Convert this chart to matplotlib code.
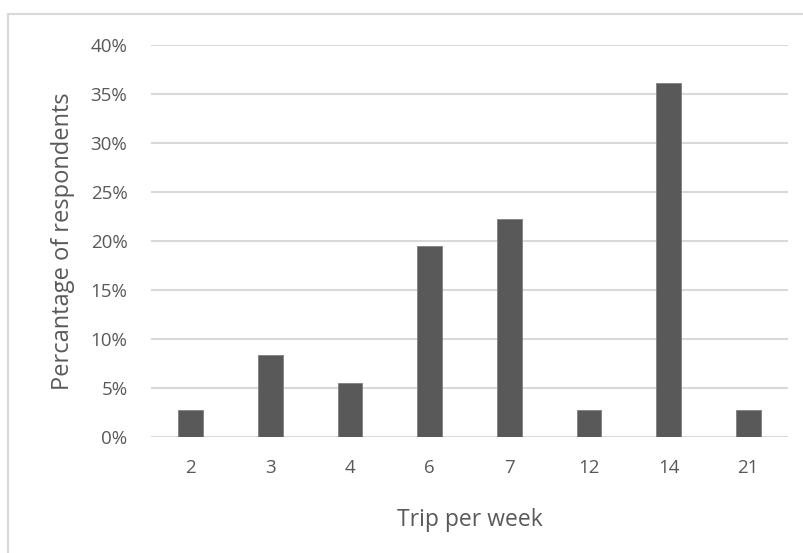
import matplotlib.pyplot as plt
from matplotlib.lines import Line2D
from matplotlib.ticker import PercentFormatter

# Dados (36 respondentes)
trips = ["2", "3", "4", "6", "7", "12", "14", "21"]
share = [0.0278, 0.0833, 0.0556, 0.1944, 0.2222, 0.0278, 0.3611, 0.0278]

plt.rcParams['font.family'] = ['Open Sans', 'DejaVu Sans']
text_color = "#595959"
grid_color = "#d9d9d9"

fig = plt.figure(figsize=(8.04, 5.53), dpi=100)
ax = fig.add_axes([151 / 804, 1 - 437 / 553, (788 - 151) / 804, (437 - 45) / 553])

# Borda clara do grafico (so topo e esquerda aparecem)
fig.add_artist(Line2D([8 / 804, 1.0], [1 - 14 / 553, 1 - 14 / 553], color=grid_color, lw=1.5))
fig.add_artist(Line2D([8 / 804, 8 / 804], [0.0, 1 - 14 / 553], color=grid_color, lw=1.5))

x = range(len(trips))
ax.bar(x, share, width=0.31, color="#595959", edgecolor="#7f7f7f", linewidth=0.6, zorder=3)

ax.set_xlim(-0.5, len(trips) - 0.5)
ax.set_ylim(0, 0.40)
ax.set_yticks([i * 0.05 for i in range(9)])
ax.yaxis.set_major_formatter(PercentFormatter(1.0, decimals=0))
ax.set_xticks(list(x))
ax.set_xticklabels(trips)

ax.grid(axis="y", color=grid_color, lw=1.5, zorder=0)
for s in ax.spines.values():
    s.set_visible(False)
ax.tick_params(length=0, colors=text_color, labelsize=13.5)
ax.tick_params(axis="y", pad=17)
ax.tick_params(axis="x", pad=16)

ax.set_xlabel("Trip per week", color=text_color, fontsize=16.5)
ax.set_ylabel("Percantage of respondents", color=text_color, fontsize=17)
ax.xaxis.set_label_coords(0.5, (437 - 508) / 392)
ax.yaxis.set_label_coords((75 - 151) / 637, 0.5)

fig.savefig("out.png", dpi=100)
